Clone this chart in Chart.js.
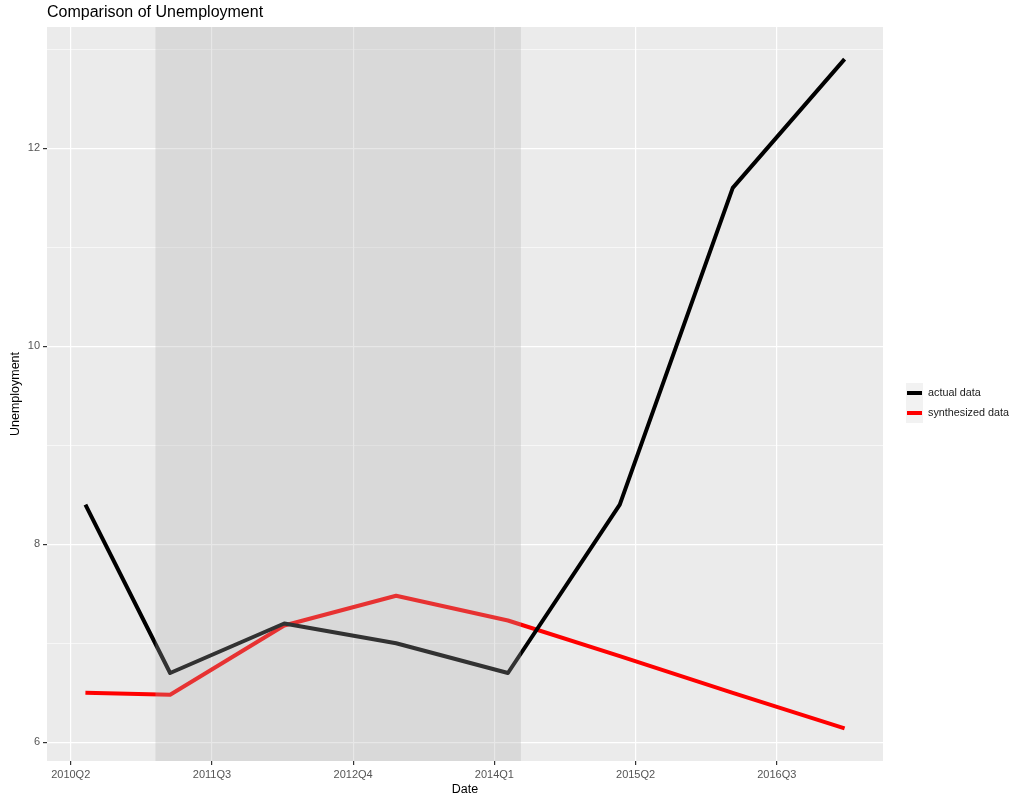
<!DOCTYPE html>
<html>
<head>
<meta charset="utf-8">
<title>Comparison of Unemployment</title>
<script src="https://cdn.jsdelivr.net/npm/chart.js@4.4.0/dist/chart.umd.min.js"></script>
<style>
  body { margin: 0; background: #fff; }
  #wrap { width: 1013px; height: 801px; }
</style>
</head>
<body>
<div id="wrap"><canvas id="grafica" width="1013" height="801"></canvas></div>
<script>
// data (x in decimal years)
const dates = [2010.38, 2011.13, 2012.14, 2013.13, 2014.12, 2015.11, 2016.11, 2017.10];
const actualData = [8.4, 6.7, 7.2, 7.0, 6.7, 8.4, 11.6, 12.9];
const synthData = [6.5, 6.48, 7.18, 7.48, 7.23, 6.87, 6.5, 6.14];
const xTickValues = [2010.25, 2011.5, 2012.75, 2014.0, 2015.25, 2016.5];
const xTickLabels = ['2010Q2', '2011Q3', '2012Q4', '2014Q1', '2015Q2', '2016Q3'];
const yTickValues = [6, 7, 8, 9, 10, 11, 12, 13];
const shadeRange = [2011.0, 2014.235];
const seriesNames = ['actual data', 'synthesized data'];
const seriesColors = ['#000000', '#ff0000'];

const FONT = '"Liberation Sans", Arial, sans-serif';

// panel background + shaded period + title + legend
const ggPlugin = {
  id: 'gg',
  beforeDraw(chart) {
    const { ctx, chartArea: a } = chart;
    ctx.save();
    ctx.fillStyle = '#ffffff';
    ctx.fillRect(0, 0, chart.width, chart.height);
    ctx.fillStyle = '#ebebeb';
    ctx.fillRect(a.left, a.top, a.right - a.left, a.bottom - a.top);
    ctx.restore();
  },
  afterDatasetsDraw(chart) {
    const { ctx, chartArea: a, scales } = chart;
    const x1 = scales.x.getPixelForValue(shadeRange[0]);
    const x2 = scales.x.getPixelForValue(shadeRange[1]);
    ctx.save();
    ctx.fillStyle = 'rgba(173,173,173,0.29)';
    ctx.fillRect(x1, a.top, x2 - x1, a.bottom - a.top);
    ctx.restore();
  },
  afterDraw(chart) {
    const { ctx, chartArea: a } = chart;
    ctx.save();
    ctx.fillStyle = '#000';
    ctx.font = '16px ' + FONT;
    ctx.textBaseline = 'middle';
    ctx.fillText('Comparison of Unemployment', a.left, 13);

    // legend
    const lx = a.right + 23, ly = 383;
    seriesNames.forEach((name, i) => {
      const y = ly + i * 20;
      ctx.fillStyle = '#f2f2f2';
      ctx.fillRect(lx, y, 17, 20);
      ctx.strokeStyle = seriesColors[i];
      ctx.lineWidth = 4;
      ctx.beginPath();
      ctx.moveTo(lx + 1, y + 10);
      ctx.lineTo(lx + 16, y + 10);
      ctx.stroke();
      ctx.fillStyle = '#1a1a1a';
      ctx.font = '10.8px ' + FONT;
      ctx.fillText(name, lx + 22, y + 10);
    });
    ctx.restore();
  }
};

new Chart(document.getElementById('grafica'), {
  type: 'line',
  data: {
    datasets: [
      {
        label: seriesNames[0],
        data: dates.map((d, i) => ({ x: d, y: actualData[i] })),
        borderColor: seriesColors[0],
        borderWidth: 4,
        borderJoinStyle: 'round',
        pointRadius: 0,
        tension: 0
      },
      {
        label: seriesNames[1],
        data: dates.map((d, i) => ({ x: d, y: synthData[i] })),
        borderColor: seriesColors[1],
        borderWidth: 4,
        borderJoinStyle: 'round',
        pointRadius: 0,
        tension: 0
      }
    ]
  },
  options: {
    responsive: false,
    animation: false,
    layout: { padding: { top: 27, right: 130, left: 0, bottom: 0 } },
    plugins: {
      legend: { display: false },
      title: { display: false },
      tooltip: { enabled: false }
    },
    scales: {
      x: {
        type: 'linear',
        min: 2010.04,
        max: 2017.44,
        afterBuildTicks: s => { s.ticks = xTickValues.map(v => ({ value: v })); },
        afterFit: s => { s.height = 40; },
        border: { display: false },
        grid: { color: '#ffffff', lineWidth: 1.2, tickLength: 4, tickColor: '#333333' },
        ticks: {
          autoSkip: false,
          maxRotation: 0,
          padding: 3,
          color: '#555555',
          font: { family: FONT, size: 11 },
          callback: (v, i) => xTickLabels[i]
        },
        title: { display: true, text: 'Date', color: '#000', font: { family: FONT, size: 12.5 }, padding: { top: 4, bottom: 4 } }
      },
      y: {
        min: 5.811,
        max: 13.225,
        afterBuildTicks: s => { s.ticks = yTickValues.map(v => ({ value: v })); },
        afterFit: s => { s.width = 47; },
        border: { display: false },
        grid: {
          color: '#ffffff',
          lineWidth: c => (c.tick && c.tick.value % 2 === 0) ? 1.2 : 0.6,
          tickLength: 4,
          tickColor: c => (c.tick && c.tick.value % 2 === 0) ? '#333333' : 'rgba(0,0,0,0)'
        },
        ticks: {
          padding: 3,
          color: '#555555',
          font: { family: FONT, size: 11 },
          callback: v => (v % 2 === 0 ? String(v) : '')
        },
        title: { display: true, text: 'Unemployment', color: '#000', font: { family: FONT, size: 12.5 }, padding: { top: 8, bottom: 4 } }
      }
    }
  },
  plugins: [ggPlugin]
});
</script>
</body>
</html>
